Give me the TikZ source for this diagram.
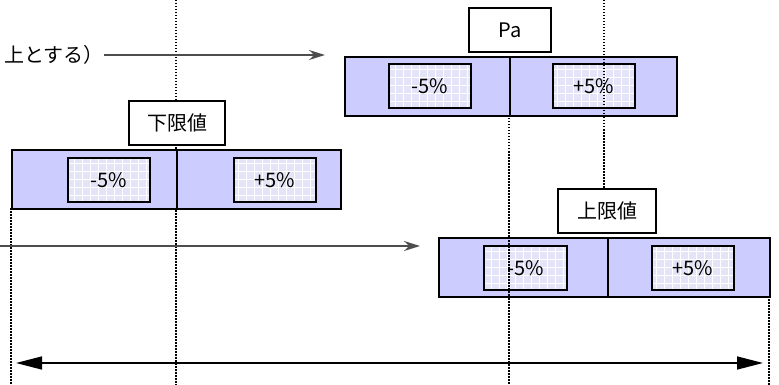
\documentclass[tikz,border=0pt]{standalone}
\usepackage{fontspec}
\setmainfont{Noto Sans CJK JP}
\usepackage{tikz}
\usetikzlibrary{arrows.meta,calc,positioning}

\definecolor{lav}{HTML}{CCCCFF}
\definecolor{lavlight}{HTML}{E4E4F8}
\definecolor{arrgray}{HTML}{4D4D4D}

\tikzset{
  halfbox/.style={draw=black,line width=2pt,fill=lav,anchor=north west,
    minimum height=59pt,inner sep=0pt},
  pctbox/.style={draw=black,line width=2pt,fill=lavlight,anchor=north west,
    minimum width=82pt,minimum height=44pt,inner sep=0pt,
    path picture={\draw[white,line width=0.6pt]
      (path picture bounding box.south west) grid[step=8pt]
      (path picture bounding box.north east);}},
  tagbox/.style={draw=black,line width=2pt,fill=white,anchor=north west,
    minimum height=44pt,inner sep=0pt},
  guide/.style={black,line width=1.3pt,dash pattern=on 1.5pt off 1.5pt},
  feed/.style={arrgray,line width=1.5pt,-{Stealth[length=16pt,width=10pt]}}
}

\begin{document}
\begin{tikzpicture}[x=1pt,y=-1pt,font=\fontsize{20}{24}\selectfont]
  \useasboundingbox (0,0) rectangle (779,385);

  % dotted guide lines
  \draw[guide] (176,0) -- (176,385);
  \draw[guide] (604,0) -- (604,188);
  \draw[guide] (509,115) -- (509,385);
  \draw[guide] (11,208) -- (11,385);
  \draw[guide] (769,296) -- (769,385);

  % upper band (Pa)
  \node[halfbox,minimum width=165pt] (topL) at (344,56) {};
  \node[halfbox,minimum width=167pt] (topR) at (509,56) {};
  \node[pctbox] (topLp) at (388,63) {-5\%};
  \node[pctbox] (topRp) at (552,63) {+5\%};
  \node[tagbox,minimum width=82pt] (pa) at (468,7) {Pa};
  \draw[guide] (604,56) -- (604,115);

  % lower limit band
  \node[halfbox,minimum width=165pt] (loL) at (11,149) {};
  \node[halfbox,minimum width=164pt] (loR) at (176,149) {};
  \node[pctbox] (loLp) at (67,157) {-5\%};
  \node[pctbox] (loRp) at (233,157) {+5\%};
  \node[tagbox,minimum width=96pt] (lower) at (128,100) {下限値};

  % upper limit band
  \node[halfbox,minimum width=169pt] (hiL) at (438,237) {};
  \node[halfbox,minimum width=162pt] (hiR) at (607,237) {};
  \node[pctbox,minimum width=83pt] (hiLp) at (483,245) {-5\%};
  \node[pctbox] (hiRp) at (651,245) {+5\%};
  \node[tagbox,minimum width=98pt] (upper) at (557,188) {上限値};
  \draw[guide] (509,237) -- (509,296);

  % arrows
  \node[anchor=east,inner sep=0pt] (note) at (104,55) {上とする）};
  \draw[feed,shorten >=19pt] (note.east) -- (topL.west |- note.east);
  \coordinate (midstart) at (0,246);
  \draw[feed,shorten >=18pt] (midstart) -- (hiL.west |- midstart);
  \coordinate (spanL) at (11,363);
  \coordinate (spanR) at (769,363);
  \draw[black,line width=1.5pt,{Triangle[length=26pt,width=13pt]}-{Triangle[length=26pt,width=13pt]},
    shorten <=5pt,shorten >=6pt] (spanL) -- (spanR);
\end{tikzpicture}
\end{document}
